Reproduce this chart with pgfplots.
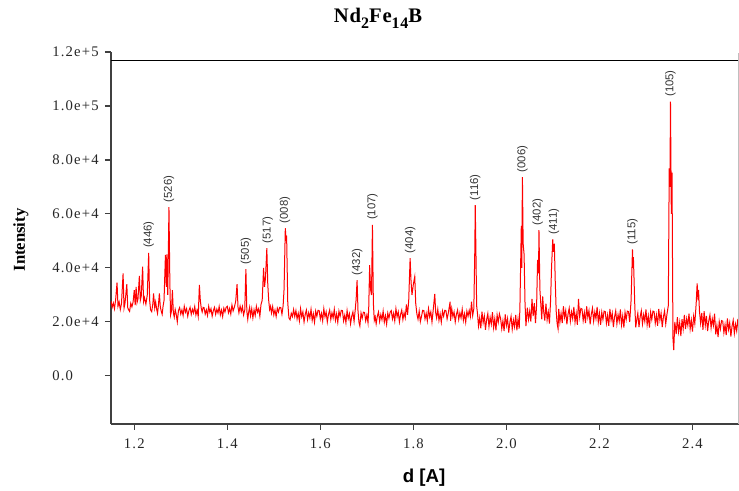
\documentclass[border=0pt]{standalone}
\usepackage{pgfplots}
\pgfplotsset{compat=1.18}
\usepackage{fontspec}
\setmainfont{Liberation Serif}
\newfontfamily\arialfont{Liberation Sans}
\newfontfamily\tickfont[LetterSpace=8]{Liberation Serif}
\newfontfamily\titlefont[LetterSpace=4]{Liberation Serif}
\newcommand{\yl}[1]{\makebox[36pt][l]{#1}}
\pgfplotstableread{
x y
1.1500 27.8
1.1525 25.4
1.1550 27.0
1.1575 24.9
1.1600 28.3
1.1630 34.6
1.1650 25.8
1.1675 27.4
1.1700 24.6
1.1725 26.7
1.1760 38.0
1.1780 25.1
1.1800 26.8
1.1840 34.0
1.1860 25.3
1.1875 24.6
1.1900 23.9
1.1925 26.9
1.1950 25.6
1.1975 27.4
1.2000 31.8
1.2020 26.2
1.2040 33.0
1.2060 27.2
1.2080 28.5
1.2110 37.1
1.2130 28.0
1.2150 29.5
1.2180 40.5
1.2200 27.5
1.2220 29.0
1.2250 26.6
1.2280 30.0
1.2310 45.6
1.2330 28.2
1.2350 24.5
1.2375 23.8
1.2400 26.8
1.2415 30.6
1.2440 25.2
1.2460 27.4
1.2480 24.9
1.2500 23.2
1.2520 26.3
1.2540 30.6
1.2560 25.6
1.2580 24.0
1.2600 22.8
1.2620 25.9
1.2640 28.0
1.2670 44.8
1.2690 33.0
1.2700 45.0
1.2720 30.0
1.2746 62.5
1.2765 35.0
1.2780 22.5
1.2800 24.0
1.2820 31.8
1.2840 23.5
1.2860 21.8
1.2880 24.6
1.2900 23.0
1.2925 20.0
1.2950 24.2
1.2975 25.3
1.3000 22.9
1.3025 24.5
1.3050 22.4
1.3075 25.8
1.3100 23.6
1.3125 24.9
1.3150 22.1
1.3175 24.2
1.3200 25.4
1.3225 22.8
1.3250 24.7
1.3275 23.3
1.3300 25.7
1.3325 22.6
1.3350 24.4
1.3375 22.0
1.3400 33.7
1.3420 28.0
1.3440 25.1
1.3460 23.7
1.3480 25.4
1.3500 25.3
1.3525 22.9
1.3550 24.5
1.3575 22.4
1.3600 25.8
1.3625 23.6
1.3650 24.9
1.3675 22.1
1.3700 24.2
1.3725 25.4
1.3750 22.8
1.3775 24.7
1.3800 23.3
1.3825 25.7
1.3850 22.6
1.3875 24.4
1.3900 22.0
1.3925 25.1
1.3950 23.7
1.3975 25.4
1.4000 25.8
1.4025 23.4
1.4050 25.0
1.4075 22.9
1.4100 26.3
1.4125 24.1
1.4150 25.4
1.4180 27.5
1.4210 34.0
1.4230 25.5
1.4250 23.4
1.4275 25.9
1.4300 23.8
1.4325 25.7
1.4350 22.6
1.4375 24.4
1.4400 39.6
1.4420 24.0
1.4440 21.0
1.4460 23.7
1.4480 25.4
1.4500 22.3
1.4525 24.9
1.4550 21.5
1.4575 24.5
1.4600 22.4
1.4625 25.8
1.4650 23.6
1.4675 24.9
1.4700 22.1
1.4725 26.5
1.4750 28.0
1.4780 40.0
1.4800 33.0
1.4820 36.0
1.4850 47.3
1.4870 34.0
1.4890 28.0
1.4910 24.6
1.4930 25.8
1.4950 23.3
1.4975 25.7
1.5000 22.6
1.5025 24.4
1.5050 22.0
1.5075 25.1
1.5100 23.7
1.5125 25.4
1.5150 25.3
1.5175 22.9
1.5200 26.0
1.5220 32.0
1.5247 54.7
1.5265 50.0
1.5275 52.0
1.5300 27.0
1.5325 21.5
1.5350 20.8
1.5375 23.2
1.5400 22.0
1.5425 24.6
1.5450 22.0
1.5475 24.2
1.5500 21.1
1.5525 23.2
1.5550 20.4
1.5575 24.9
1.5600 21.9
1.5625 23.7
1.5650 20.0
1.5675 22.8
1.5700 24.4
1.5725 20.9
1.5750 23.4
1.5775 21.5
1.5800 24.7
1.5825 20.6
1.5850 23.0
1.5875 19.9
1.5900 24.0
1.5925 22.1
1.5950 24.3
1.5975 24.2
1.6000 21.1
1.6025 23.2
1.6050 20.4
1.6075 24.9
1.6100 21.9
1.6125 23.7
1.6150 20.0
1.6175 22.8
1.6200 24.4
1.6225 20.9
1.6250 23.4
1.6275 21.5
1.6300 24.7
1.6325 20.6
1.6350 23.0
1.6375 19.9
1.6400 24.0
1.6425 22.1
1.6450 24.3
1.6475 24.2
1.6500 20.4
1.6525 22.5
1.6550 19.7
1.6575 24.2
1.6600 21.2
1.6625 23.0
1.6650 19.3
1.6675 22.1
1.6700 23.7
1.6725 20.2
1.6750 24.5
1.6770 28.5
1.6790 35.5
1.6810 24.0
1.6830 19.9
1.6850 18.5
1.6875 23.3
1.6900 21.4
1.6925 23.6
1.6950 23.5
1.6975 20.4
1.7000 22.5
1.7025 19.7
1.7040 25.0
1.7060 41.0
1.7080 32.0
1.7100 30.0
1.7120 56.0
1.7140 27.0
1.7160 20.6
1.7180 21.9
1.7200 19.3
1.7225 22.1
1.7250 23.7
1.7275 20.2
1.7300 22.7
1.7325 20.8
1.7350 24.0
1.7375 19.9
1.7400 22.3
1.7425 19.2
1.7450 23.3
1.7475 21.4
1.7500 23.6
1.7525 24.2
1.7550 21.1
1.7575 23.2
1.7600 20.4
1.7625 24.9
1.7650 21.9
1.7675 23.7
1.7700 20.0
1.7725 22.8
1.7750 24.4
1.7775 20.9
1.7800 23.4
1.7825 21.5
1.7850 26.5
1.7875 22.6
1.7900 28.0
1.7930 43.6
1.7950 35.0
1.7970 30.0
1.8000 34.0
1.8030 36.8
1.8050 27.0
1.8075 23.0
1.8100 21.0
1.8125 24.0
1.8150 20.1
1.8175 22.1
1.8200 24.3
1.8225 24.2
1.8250 21.1
1.8275 23.2
1.8300 20.4
1.8325 24.9
1.8350 21.9
1.8375 23.7
1.8400 20.0
1.8430 25.0
1.8460 30.4
1.8480 23.4
1.8500 21.5
1.8525 24.7
1.8550 20.6
1.8575 23.0
1.8600 19.9
1.8625 24.0
1.8650 22.1
1.8675 24.3
1.8700 24.2
1.8725 21.1
1.8750 23.2
1.8790 27.5
1.8800 20.4
1.8825 24.9
1.8850 21.9
1.8875 23.7
1.8900 20.0
1.8925 22.8
1.8950 24.4
1.8975 20.9
1.9000 23.4
1.9025 21.5
1.9050 24.7
1.9075 20.6
1.9100 23.0
1.9125 19.9
1.9150 24.0
1.9175 22.1
1.9200 24.3
1.9225 22.0
1.9250 27.5
1.9275 22.4
1.9300 25.0
1.9320 46.0
1.9330 63.3
1.9345 46.0
1.9360 26.0
1.9380 22.8
1.9400 18.5
1.9425 21.5
1.9450 17.6
1.9475 23.8
1.9500 19.7
1.9525 22.2
1.9550 17.1
1.9575 20.9
1.9600 23.1
1.9625 18.3
1.9650 21.7
1.9675 19.2
1.9700 23.6
1.9725 17.9
1.9750 21.2
1.9775 16.9
1.9800 22.6
1.9825 19.9
1.9850 23.0
1.9875 21.3
1.9900 17.5
1.9925 20.5
1.9950 16.6
1.9975 22.8
2.0000 18.7
2.0025 21.2
2.0050 16.1
2.0075 19.9
2.0100 22.1
2.0125 17.3
2.0150 20.7
2.0175 18.2
2.0200 22.6
2.0225 16.9
2.0250 21.2
2.0275 17.5
2.0290 25.0
2.0320 55.6
2.0330 40.0
2.0344 73.6
2.0360 49.0
2.0380 45.0
2.0400 27.0
2.0420 18.5
2.0450 25.3
2.0475 21.0
2.0500 24.0
2.0525 20.1
2.0550 28.5
2.0575 22.2
2.0600 27.0
2.0625 19.6
2.0650 26.5
2.0670 43.0
2.0690 38.0
2.0700 54.0
2.0720 32.0
2.0740 26.5
2.0760 21.0
2.0780 29.5
2.0800 24.0
2.0825 20.5
2.0850 26.8
2.0875 20.8
2.0900 23.7
2.0925 19.4
2.0950 28.0
2.0970 40.0
2.0996 50.6
2.1010 46.0
2.1030 49.0
2.1050 35.0
2.1070 24.0
2.1090 19.5
2.1110 17.5
2.1125 24.8
2.1150 19.9
2.1175 23.2
2.1200 19.6
2.1225 25.8
2.1250 21.7
2.1275 24.2
2.1300 19.1
2.1325 22.9
2.1350 25.1
2.1375 20.3
2.1400 23.7
2.1425 21.2
2.1450 25.6
2.1475 19.9
2.1500 23.2
2.1525 18.9
2.1550 28.5
2.1575 21.9
2.1600 25.0
2.1625 24.8
2.1650 20.5
2.1675 23.5
2.1700 19.6
2.1725 25.8
2.1750 21.7
2.1775 24.2
2.1800 19.1
2.1825 22.9
2.1850 25.1
2.1875 20.3
2.1900 23.7
2.1925 21.2
2.1950 25.6
2.1975 19.9
2.2000 23.2
2.2025 18.9
2.2050 23.6
2.2075 20.9
2.2100 24.0
2.2125 23.8
2.2150 19.5
2.2175 22.5
2.2200 18.6
2.2225 24.8
2.2250 20.7
2.2275 23.2
2.2300 18.1
2.2325 21.9
2.2350 24.1
2.2375 19.3
2.2400 22.7
2.2425 20.2
2.2450 24.6
2.2475 18.9
2.2500 22.2
2.2525 17.9
2.2550 23.6
2.2575 20.9
2.2600 24.0
2.2625 23.8
2.2650 20.0
2.2680 28.0
2.2710 46.9
2.2720 40.0
2.2730 44.0
2.2760 26.0
2.2780 18.0
2.2800 20.6
2.2825 23.2
2.2850 18.1
2.2875 21.9
2.2900 24.1
2.2925 19.3
2.2950 22.7
2.2975 20.2
2.3000 24.6
2.3025 18.9
2.3050 22.2
2.3075 17.9
2.3100 23.6
2.3125 20.9
2.3150 24.0
2.3175 23.8
2.3200 19.5
2.3225 22.5
2.3250 18.6
2.3275 24.8
2.3300 20.7
2.3325 23.2
2.3350 18.1
2.3375 21.9
2.3400 24.1
2.3425 19.3
2.3450 22.7
2.3480 26.0
2.3500 76.9
2.3515 70.0
2.3527 101.6
2.3545 60.0
2.3560 75.3
2.3580 14.0
2.3597 9.6
2.3620 20.0
2.3650 15.5
2.3675 21.8
2.3700 16.4
2.3725 19.8
2.3750 14.8
2.3775 21.0
2.3800 17.5
2.3825 22.6
2.3850 17.4
2.3875 21.2
2.3900 18.7
2.3925 23.1
2.3950 17.4
2.3975 20.7
2.4000 16.4
2.4025 22.1
2.4050 19.4
2.4080 27.0
2.4100 34.3
2.4120 28.0
2.4130 31.9
2.4150 24.0
2.4175 19.5
2.4200 23.3
2.4225 17.1
2.4250 24.0
2.4275 18.7
2.4300 22.2
2.4325 16.6
2.4350 20.4
2.4375 22.6
2.4400 17.8
2.4425 21.2
2.4450 18.7
2.4475 23.1
2.4500 15.4
2.4525 18.7
2.4550 14.4
2.4575 20.1
2.4600 17.4
2.4625 20.5
2.4650 20.3
2.4675 16.0
2.4700 19.0
2.4725 15.1
2.4750 21.3
2.4775 17.2
2.4800 19.7
2.4825 14.6
2.4850 18.4
2.4875 20.6
2.4900 15.8
2.4925 19.2
2.4950 16.7
2.4975 21.1
2.5000 16.5
}\spectrum
\begin{document}
\begin{tikzpicture}[x=1pt,y=1pt]
\begin{axis}[
 scale only axis, width=471pt, height=279pt,
 xmin=1.15, xmax=2.5, ymin=-17.8, ymax=120,
 axis x line*=bottom, axis y line*=left,
 axis line style={-, draw=black!75, line width=1pt},
 tick align=outside, major tick length=4.5pt,
 tick style={draw=black!75, line width=0.8pt},
 xtick={1.2,1.4,1.6,1.8,2.0,2.2,2.4},
 xticklabels={1.2,1.4,1.6,1.8,2.0,2.2,2.4},
 ytick={0,20,40,60,80,100,120},
 yticklabels={\yl{0.0},\yl{2.0e+4},\yl{4.0e+4},\yl{6.0e+4},\yl{8.0e+4},\yl{1.0e+5},\yl{1.2e+5}},
 /pgf/number format/assume math mode=true,
 ticklabel style={font=\tickfont\fontsize{11}{13}\selectfont, text=black!85},
 xticklabel style={yshift=-3pt},
]
\addplot[red, line width=0.75pt] table {\spectrum};
\draw[black, line width=0.8pt] (axis cs:1.15,117) -- (axis cs:2.5,117);
\tikzset{pk/.style={rotate=90, anchor=west, inner sep=3.5pt, text=black!80, font=\arialfont\fontsize{8.5}{9}\selectfont}}
\node[pk] at (axis cs:1.231,45.6) {(446)};
\node[pk] at (axis cs:1.2746,62.5) {(526)};
\node[pk] at (axis cs:1.440,39.6) {(505)};
\node[pk] at (axis cs:1.487,47.3) {(517)};
\node[pk] at (axis cs:1.524,54.7) {(008)};
\node[pk] at (axis cs:1.679,35.5) {(432)};
\node[pk] at (axis cs:1.712,56.0) {(107)};
\node[pk] at (axis cs:1.793,43.6) {(404)};
\node[pk] at (axis cs:1.933,63.3) {(116)};
\node[pk] at (axis cs:2.0344,73.6) {(006)};
\node[pk] at (axis cs:2.067,54.0) {(402)};
\node[pk] at (axis cs:2.102,50.6) {(411)};
\node[pk] at (axis cs:2.271,46.9) {(115)};
\node[pk] at (axis cs:2.3527,101.6) {(105)};
\end{axis}
\draw[black!25, line width=0.5pt] (470.25,0) -- (470.25,278.25);
\node[anchor=base, font=\titlefont\bfseries\fontsize{15.5}{17}\selectfont] at (200.25,300.75) {Nd\raisebox{-4pt}{\fontsize{12}{12}\selectfont 2}Fe\raisebox{-4pt}{\fontsize{12}{12}\selectfont 14}B};
\node[rotate=90, font=\bfseries\fontsize{12.5}{14}\selectfont] at (-67.5,138) {Intensity};
\node[font=\arialfont\bfseries\fontsize{14}{16}\selectfont] at (234.75,-40.5) {d [A]};
\pgfresetboundingbox
\path (-83.25,-50.25) rectangle (471,318);
\end{tikzpicture}
\end{document}
